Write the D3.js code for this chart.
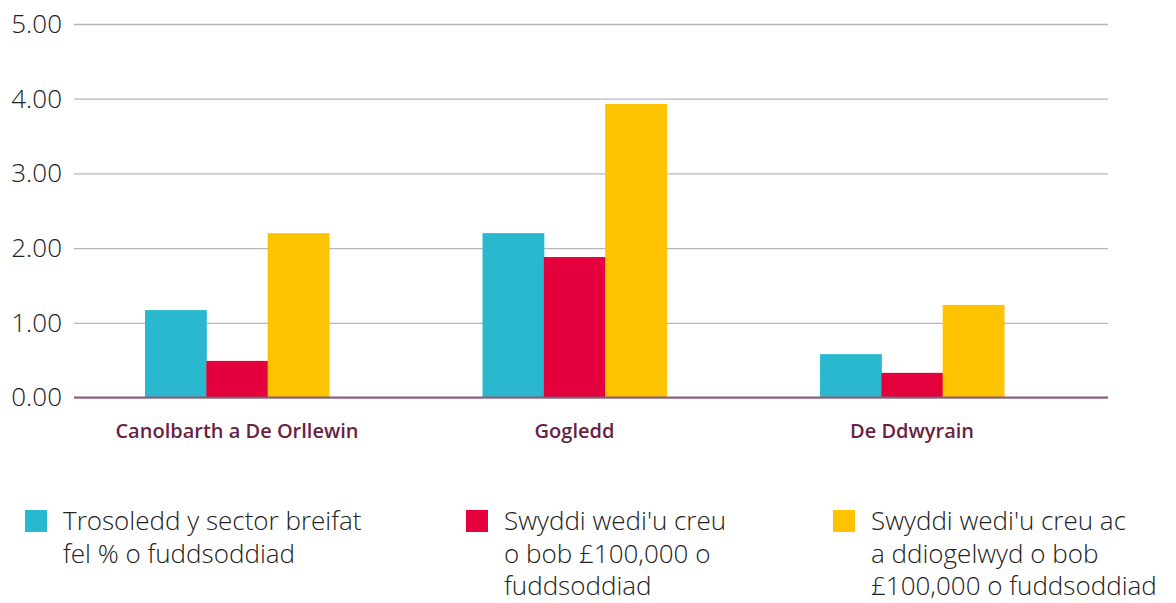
<!DOCTYPE html>
<html>
<head>
<meta charset="utf-8">
<script src="https://cdn.jsdelivr.net/npm/d3@7"></script>
<style>
  body { margin: 0; background: #fff; }
  text { font-family: "Open Sans", Lato, sans-serif; }
</style>
</head>
<body>
<div id="chart"></div>
<script>
// data
var categories = ["Canolbarth a De Orllewin", "Gogledd", "De Ddwyrain"];
var seriesNames = [
  ["Trosoledd y sector breifat", "fel % o fuddsoddiad"],
  ["Swyddi wedi'u creu", "o bob £100,000 o", "fuddsoddiad"],
  ["Swyddi wedi'u creu ac", "a ddiogelwyd o bob", "£100,000 o fuddsoddiad"]
];
var turnover = [1.17, 2.20, 0.58];
var jobsCreated = [0.49, 1.88, 0.33];
var jobsSafeguarded = [2.20, 3.93, 1.24];
var yTicks = [0, 1, 2, 3, 4, 5];

var colors = ["#29b8ce", "#e4003d", "#fdc300"];
var seriesValues = [turnover, jobsCreated, jobsSafeguarded];

var width = 1176, height = 603;
var svg = d3.select("#chart").append("svg")
  .attr("width", width).attr("height", height);

// scales
var yScale = d3.scaleLinear().domain([0, 5]).range([397.5, 24]);
var xScale = d3.scaleBand().domain(categories)
  .range([145, 1004]).paddingInner(0.455).paddingOuter(0);
var xInner = d3.scaleBand().domain(d3.range(seriesValues.length))
  .range([0, xScale.bandwidth()]);

// gridlines + tick labels
var yAxis = d3.axisLeft(yScale).tickValues(yTicks)
  .tickSize(-(1108 - 74)).tickPadding(12)
  .tickFormat(d3.format(".2f"));
var yg = svg.append("g").attr("transform", "translate(74,0)").call(yAxis);
yg.select(".domain").remove();
yg.selectAll(".tick line").attr("stroke", "#b3b7c3").attr("stroke-width", 1.3);
yg.selectAll(".tick text")
  .attr("fill", "#222").attr("font-size", 26).attr("font-weight", 300)
  .attr("font-family", "'Open Sans', sans-serif");

// bars
seriesValues.forEach(function(vals, s) {
  svg.append("g").selectAll("rect").data(vals).enter().append("rect")
    .attr("x", function(d, i) { return xScale(categories[i]) + xInner(s); })
    .attr("width", xInner.bandwidth() + 0.5)
    .attr("y", function(d) { return yScale(d); })
    .attr("height", function(d) { return yScale(0) - yScale(d); })
    .attr("fill", colors[s]);
});

// zero line
svg.append("line")
  .attr("x1", 74).attr("x2", 1108)
  .attr("y1", yScale(0)).attr("y2", yScale(0))
  .attr("stroke", "#8e5a75").attr("stroke-width", 2);

// category labels
var xAxis = d3.axisBottom(xScale).tickSize(0).tickPadding(26);
var xg = svg.append("g").attr("transform", "translate(0," + yScale(0) + ")").call(xAxis);
xg.select(".domain").remove();
xg.selectAll(".tick text")
  .attr("fill", "#6a1f45").attr("font-size", 20).attr("font-weight", 600)
  .attr("font-family", "'Open Sans', sans-serif");

// legend
var legendX = [25, 466, 833];
seriesNames.forEach(function(lines, s) {
  var g = svg.append("g").attr("transform", "translate(" + legendX[s] + ",510)");
  g.append("rect").attr("width", 22).attr("height", 22).attr("fill", colors[s]);
  var t = g.append("text").attr("x", 38).attr("y", 20)
    .attr("font-size", 26).attr("font-weight", 300).attr("fill", "#222");
  lines.forEach(function(line, i) {
    t.append("tspan").attr("x", 38).attr("dy", i === 0 ? 0 : 32.5).text(line);
  });
});
</script>
</body>
</html>
